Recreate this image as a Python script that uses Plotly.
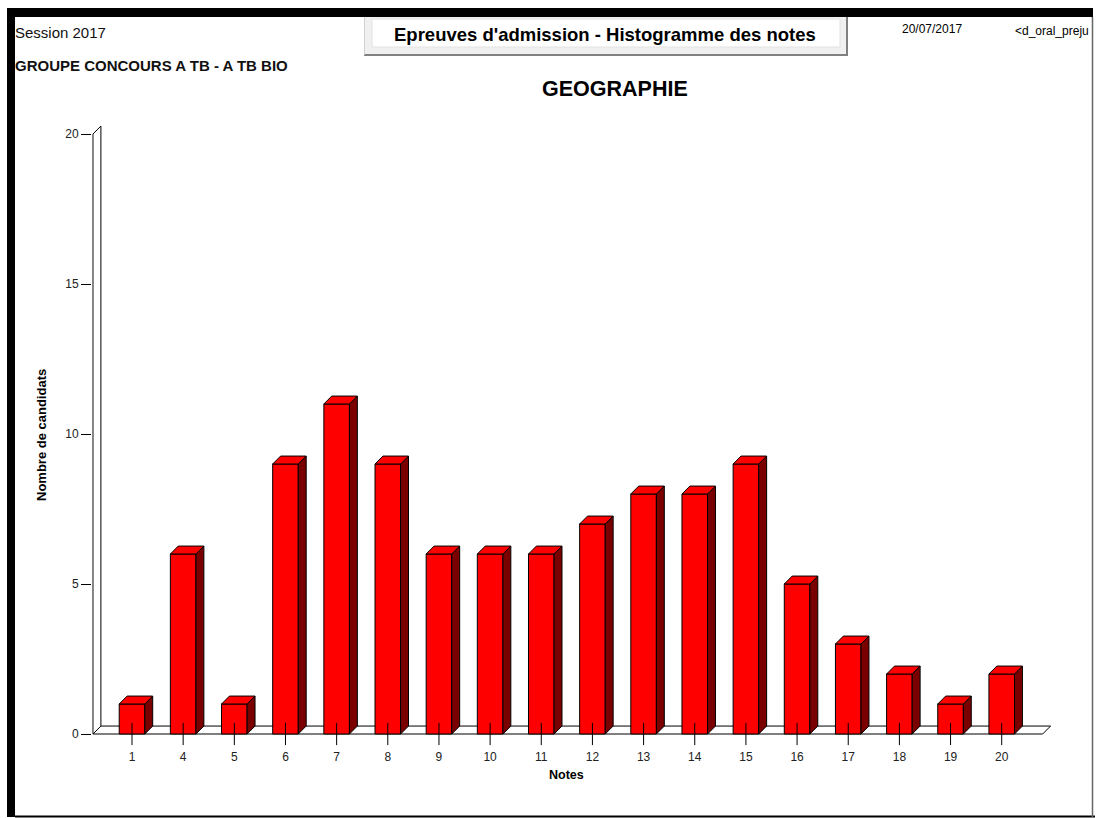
import plotly.graph_objects as go

# ---- data ----
notes = ["1", "4", "5", "6", "7", "8", "9", "10", "11", "12", "13", "14", "15", "16", "17", "18", "19", "20"]
candidats = [1, 6, 1, 9, 11, 9, 6, 6, 6, 7, 8, 8, 9, 5, 3, 2, 1, 2]
y_ticks = [0, 5, 10, 15, 20]

W, H = 1096, 818
FONT = "Liberation Sans, Arial, sans-serif"

idx = list(range(len(notes)))
bw = 0.5      # bar front width (category units)
dx = 0.155    # 3D depth in x (category units)
dy = 0.265    # 3D depth in y (value units)
L, R = -0.763, 17.8  # floor extents
YMAX = 20

def px(X):
    return X / W

def py(Y):
    return 1 - Y / H

fig = go.Figure()

# front faces
fig.add_trace(go.Bar(
    x=idx, y=candidats, width=bw,
    marker=dict(color="#ff0000", line=dict(color="#000000", width=1)),
    hoverinfo="skip", showlegend=False,
))

# side faces
sx, sy = [], []
for i, v in zip(idx, candidats):
    r = i + bw / 2
    sx += [r, r + dx, r + dx, r, r, None]
    sy += [0, dy, v + dy, v, 0, None]
fig.add_trace(go.Scatter(x=sx, y=sy, mode="lines", fill="toself",
                         fillcolor="#7a0000", line=dict(color="#000000", width=1),
                         hoverinfo="skip", showlegend=False))

# top faces
tx, ty = [], []
for i, v in zip(idx, candidats):
    l, r = i - bw / 2, i + bw / 2
    tx += [l, r, r + dx, l + dx, l, None]
    ty += [v, v, v + dy, v + dy, v, None]
fig.add_trace(go.Scatter(x=tx, y=ty, mode="lines", fill="toself",
                         fillcolor="#ff0000", line=dict(color="#000000", width=1),
                         hoverinfo="skip", showlegend=False))

# x tick marks crossing the floor
kx, ky = [], []
for i in idx:
    kx += [i, i, None]
    ky += [-0.37, 0.37, None]
fig.add_trace(go.Scatter(x=kx, y=ky, mode="lines",
                         line=dict(color="#000000", width=1),
                         hoverinfo="skip", showlegend=False))

shapes = []
# floor and wall (below traces)
def seg(x0, y0, x1, y1):
    shapes.append(dict(type="line", xref="x", yref="y", x0=x0, y0=y0, x1=x1, y1=y1,
                       line=dict(color="#000000", width=1), layer="below"))

seg(L, 0, L, YMAX)
seg(L + dx, dy, L + dx, YMAX + dy)
seg(L, YMAX, L + dx, YMAX + dy)
seg(L, 0, R, 0)
seg(L + dx, dy, R + dx, dy)
seg(R, 0, R + dx, dy)
seg(L, 0, L + dx, dy)

# page decorations (paper = full figure since margins are 0)
def rect(x0, y0, x1, y1, fill, line_color=None, lw=0):
    shapes.append(dict(type="rect", xref="paper", yref="paper",
                       x0=px(x0), x1=px(x1), y0=py(y1), y1=py(y0),
                       fillcolor=fill,
                       line=dict(color=line_color or fill, width=lw), layer="above"))

def pline(x0, y0, x1, y1, color, lw):
    shapes.append(dict(type="line", xref="paper", yref="paper",
                       x0=px(x0), x1=px(x1), y0=py(y0), y1=py(y1),
                       line=dict(color=color, width=lw), layer="above"))

rect(7, 8, 1093, 17, "#000000")          # top band
rect(7, 8, 15, 817, "#000000")           # left band
pline(15, 816.5, 1095, 816.5, "#000000", 2)  # bottom line
pline(1092.5, 17, 1092.5, 817, "#666666", 1.5)  # right line

# title box
rect(364, 17, 848, 56, "#f0f0f0")
pline(847, 17, 847, 56, "#808080", 2)
pline(364, 55, 848, 55, "#808080", 2)
pline(364.5, 17, 364.5, 55, "#d0d0d0", 1)
rect(372, 19, 840, 47, "#ffffff", "#e2e2e2", 1)

def ann(text, X, Y, size, bold=False, xanchor="center", angle=0, color="#000000"):
    return dict(text=text, x=px(X), y=py(Y), xref="paper", yref="paper",
                xanchor=xanchor, yanchor="middle", showarrow=False, textangle=angle,
                font=dict(family=FONT, size=size, color=color,
                          weight="bold" if bold else "normal"))

annotations = [
    ann("Session 2017", 13, 33, 15, xanchor="left", color="#111111"),
    ann("GROUPE CONCOURS A TB - A TB BIO", 13, 66, 15, bold=True, xanchor="left", color="#111111"),
    ann("Epreuves d'admission - Histogramme des notes", 605, 34, 18.5, bold=True),
    ann("20/07/2017", 932, 29, 12),
    ann("&lt;d_oral_preju", 1013, 31, 12, xanchor="left"),
    ann("GEOGRAPHIE", 615, 89, 21.5, bold=True),
    ann("Nombre de candidats", 41, 435, 13, bold=True, angle=-90),
    ann("Notes", 566, 775, 12.5, bold=True),
]

# axes geometry: category spacing 51.16 px, 30 px per unit
x_range = [-0.78, 18.1]
y_range = [-0.45, 20.6]
x0_page, xs = 132.0, 51.16
y0_page, ys = 734.0, 30.0
dom_x = [px(x0_page + x_range[0] * xs), px(x0_page + x_range[1] * xs)]
dom_y = [py(y0_page - y_range[0] * ys), py(y0_page - y_range[1] * ys)]

fig.update_layout(
    width=W, height=H,
    margin=dict(l=0, r=0, t=0, b=0),
    paper_bgcolor="#ffffff", plot_bgcolor="#ffffff",
    showlegend=False,
    shapes=shapes,
    annotations=annotations,
    xaxis=dict(domain=dom_x, range=x_range, tickmode="array", tickvals=idx, ticktext=notes,
               ticks="", showgrid=False, zeroline=False, showline=False,
               tickfont=dict(family=FONT, size=12, color="#222222"), fixedrange=True),
    yaxis=dict(domain=dom_y, range=y_range, tickmode="array", tickvals=y_ticks,
               ticks="outside", ticklen=10, tickcolor="#000000", tickwidth=1,
               showgrid=False, zeroline=False, showline=False,
               tickfont=dict(family=FONT, size=12, color="#222222"), fixedrange=True),
)

fig.write_html("out.html", post_script="document.body.style.margin='0';",
               config={"displayModeBar": False})
